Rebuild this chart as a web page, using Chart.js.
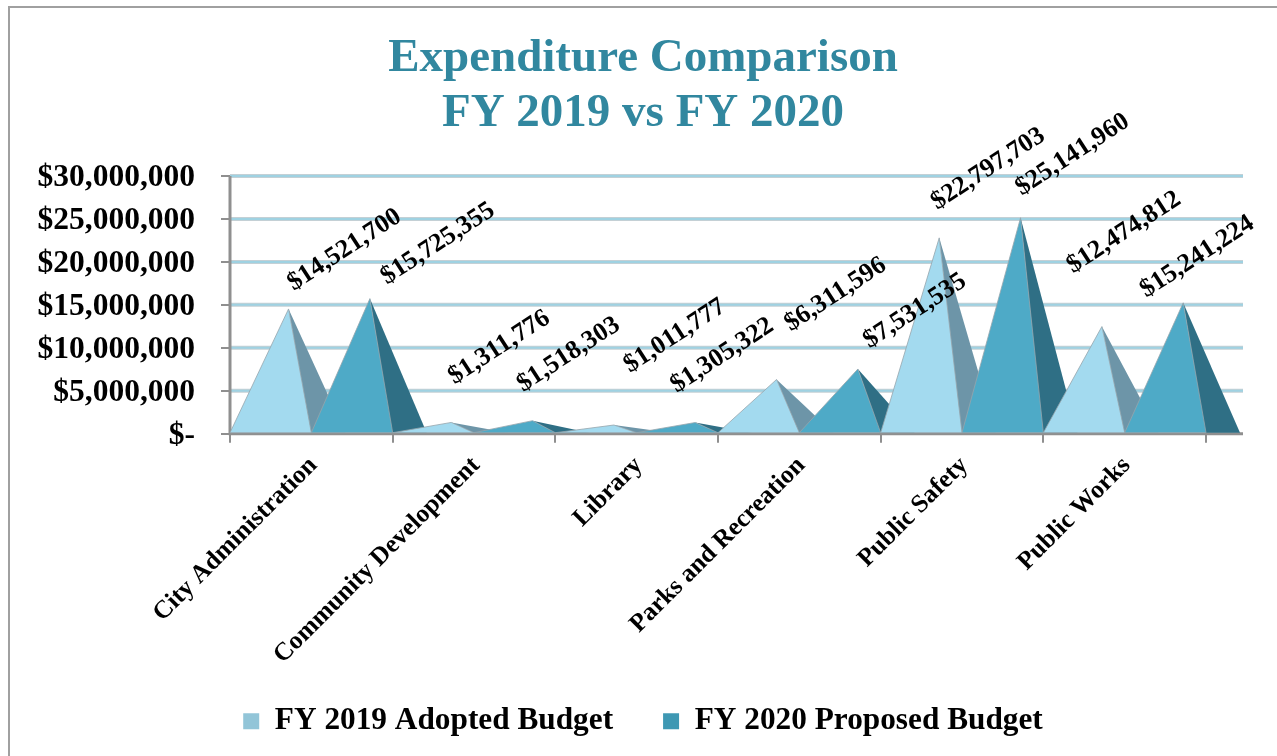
<!DOCTYPE html>
<html>
<head>
<meta charset="utf-8">
<title>Expenditure Comparison</title>
<style>
  html, body { margin: 0; padding: 0; background: #fff; }
  #wrap { position: relative; width: 1277px; height: 756px; overflow: hidden; }
  #frame { position: absolute; left: 8px; top: 6px; width: 1300px; height: 800px; border-left: 2px solid #a0a0a0; border-top: 2px solid #a0a0a0; }
  canvas { position: absolute; left: 0; top: 0; }
</style>
<script src="https://cdn.jsdelivr.net/npm/chart.js@4/dist/chart.umd.js"></script>
</head>
<body>
<div id="wrap">
  <div id="frame"></div>
  <canvas id="budgetChart" width="1277" height="756"></canvas>
</div>
<script>
'use strict';

var categories = ["City Administration", "Community Development", "Library", "Parks and Recreation", "Public Safety", "Public Works"];
var adopted2019 = [14521700, 1311776, 1011777, 6311596, 22797703, 12474812];
var proposed2020 = [15725355, 1518303, 1305322, 7531535, 25141960, 15241224];
var titleLines = ["Expenditure Comparison", "FY 2019 vs FY 2020"];

var SERIF = "'Liberation Serif', serif";

// hand placed labels in the original, offset of the label centre from the apex
var labelNudge = [
  [[56, -59], [48, -75], [61, -89], [59, -85], [49, -69], [22, -94]],
  [[68, -55], [36, -66], [27, -67], [57, -58], [52, -63], [14, -46]]
];

var faceColors = [
  { front: "#a3daef", side: "#6d95a8" },
  { front: "#4eaac7", side: "#2f6f85" }
];

function money(v) {
  return "$" + v.toLocaleString("en-US");
}

var pyramidPlugin = {
  id: "pyramids",
  // long category labels reach into the legend's box, don't let the scale clip them
  afterLayout: function (chart) {
    chart.scales.x.bottom = chart.height;
  },
  // grid runs past the last category because of the 3D depth
  beforeDatasetsDraw: function (chart) {
    var ctx = chart.ctx;
    var y = chart.scales.y;
    ctx.save();
    y.ticks.forEach(function (t) {
      if (t.value === 0) return;
      var py = y.getPixelForValue(t.value);
      ctx.strokeStyle = "#c4d0d5";
      ctx.lineWidth = 4;
      ctx.beginPath();
      ctx.moveTo(chart.chartArea.left, py);
      ctx.lineTo(chart.chartArea.right + 37, py);
      ctx.stroke();
      ctx.strokeStyle = "#9fd2e2";
      ctx.lineWidth = 2;
      ctx.stroke();
    });
    ctx.restore();
  },
  beforeDatasetDraw: function () {
    return false; // no flat bars, pyramids are drawn below
  },
  afterDatasetsDraw: function (chart) {
    var ctx = chart.ctx;
    var area = chart.chartArea;
    ctx.save();

    // floor and wall
    ctx.strokeStyle = "#8f8f8f";
    ctx.lineWidth = 3;
    ctx.beginPath();
    ctx.moveTo(area.left, area.top);
    ctx.lineTo(area.left, area.bottom);
    ctx.lineTo(area.right + 37, area.bottom);
    ctx.stroke();

    categories.forEach(function (c, i) {
      chart.data.datasets.forEach(function (ds, d) {
        var bar = chart.getDatasetMeta(d).data[i];
        var left = bar.x - bar.width / 2;
        var right = bar.x + bar.width / 2;
        var apexX = left + bar.width * 0.72;
        var colors = faceColors[d];

        ctx.fillStyle = colors.side;
        ctx.beginPath();
        ctx.moveTo(right - 1, bar.base);
        ctx.lineTo(right + 34, bar.base);
        ctx.lineTo(apexX, bar.y);
        ctx.closePath();
        ctx.fill();

        ctx.fillStyle = colors.front;
        ctx.strokeStyle = "rgba(150,165,172,0.8)";
        ctx.lineWidth = 1;
        ctx.beginPath();
        ctx.moveTo(left, bar.base);
        ctx.lineTo(right, bar.base);
        ctx.lineTo(apexX, bar.y);
        ctx.closePath();
        ctx.fill();
        ctx.stroke();
      });
    });

    // value labels go on top of everything
    ctx.fillStyle = "#000";
    ctx.font = "bold 26px " + SERIF;
    ctx.textAlign = "center";
    ctx.textBaseline = "middle";
    chart.data.datasets.forEach(function (ds, d) {
      ds.data.forEach(function (v, i) {
        var bar = chart.getDatasetMeta(d).data[i];
        var apexX = bar.x - bar.width / 2 + bar.width * 0.72;
        ctx.save();
        ctx.translate(apexX + labelNudge[d][i][0], bar.y + labelNudge[d][i][1]);
        ctx.rotate(-33 * Math.PI / 180);
        ctx.fillText(money(v), 0, 0);
        ctx.restore();
      });
    });
    ctx.restore();
  }
};

var chart = new Chart(document.getElementById("budgetChart"), {
  type: "bar",
  data: {
    labels: categories,
    datasets: [
      { label: "FY 2019 Adopted Budget", data: adopted2019, backgroundColor: "#92c5d8" },
      { label: "FY 2020 Proposed Budget", data: proposed2020, backgroundColor: "#3e98b3" }
    ]
  },
  options: {
    responsive: false,
    animation: false,
    layout: { padding: { left: 9, right: 0, top: 31, bottom: 9 } },
    datasets: { bar: { categoryPercentage: 1, barPercentage: 1 } },
    plugins: {
      tooltip: { enabled: false },
      title: {
        display: true,
        text: titleLines,
        color: "#31879f",
        font: { family: SERIF, size: 47, weight: "bold", lineHeight: 1.17 },
        padding: { top: 0, bottom: 35 }
      },
      legend: {
        position: "bottom",
        labels: {
          color: "#000",
          font: { family: SERIF, size: 31.3, weight: "bold" },
          boxWidth: 16,
          boxHeight: 16,
          padding: 50
        }
      }
    },
    scales: {
      x: {
        grid: { drawOnChartArea: false, color: "#8f8f8f", lineWidth: 2, tickLength: 9 },
        border: { display: false },
        ticks: {
          color: "#000",
          font: { family: SERIF, size: 25.5, weight: "bold" },
          minRotation: 45,
          maxRotation: 45,
          padding: 8,
          labelOffset: 2,
          autoSkip: false
        },
        afterFit: function (scale) { scale.height = 222; }
      },
      y: {
        min: 0,
        max: 30000000,
        grid: { drawOnChartArea: false, color: "#8f8f8f", lineWidth: 2, tickLength: 9 },
        border: { display: false },
        ticks: {
          stepSize: 5000000,
          color: "#000",
          font: { family: SERIF, size: 31.5, weight: "bold" },
          padding: 26,
          labelOffset: 2,
          callback: function (v) { return v === 0 ? "$-" : money(v); }
        },
        afterFit: function (scale) { scale.width = 221; }
      },
      // only keeps room for the depth on the right
      depth: {
        position: "right",
        grid: { display: false },
        border: { display: false },
        ticks: { display: false },
        afterFit: function (scale) { scale.width = 71; }
      }
    }
  },
  plugins: [pyramidPlugin]
});
</script>
</body>
</html>
